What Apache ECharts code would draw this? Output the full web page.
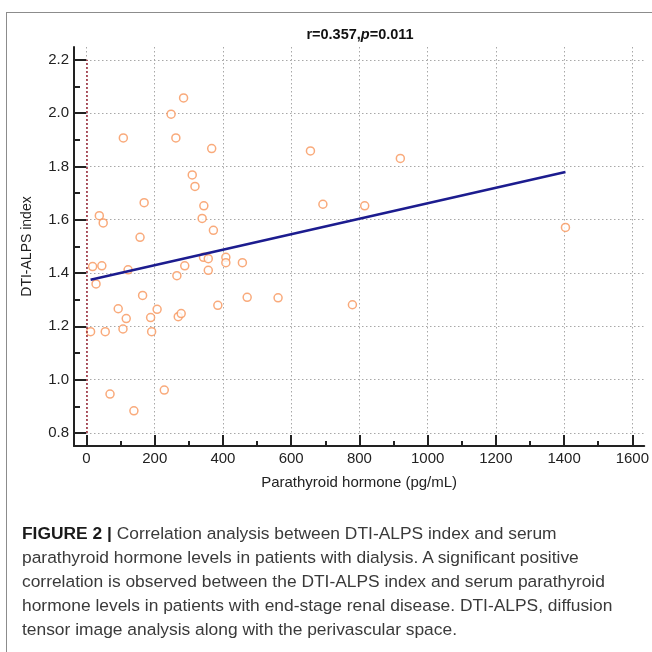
<!DOCTYPE html>
<html>
<head>
<meta charset="utf-8">
<script src="https://cdn.jsdelivr.net/npm/echarts@6/dist/echarts.min.js"></script>
<style>
  html, body { margin: 0; padding: 0; background: #fff; }
  #wrap { position: relative; width: 652px; height: 652px; overflow: hidden; }
  #frame { position: absolute; left: 6px; top: 12px; width: 700px; height: 700px;
           border-left: 1.5px solid #8c8c8c; border-top: 1.5px solid #8c8c8c; }
  #chart { position: absolute; left: 0; top: 0; width: 652px; height: 652px; }
  #caption { position: absolute; left: 22px; top: 521px; font-family: "Liberation Sans", Arial, sans-serif;
             font-size: 17.4px; line-height: 24px; color: #3a3a3a; white-space: nowrap; }
  #caption b { color: #1a1a1a; }
</style>
</head>
<body>
<div id="wrap">
  <div id="frame"></div>
  <div id="chart"></div>
  <div id="caption"><b>FIGURE 2 |</b> Correlation analysis between DTI-ALPS index and serum<br>parathyroid hormone levels in patients with dialysis. A significant positive<br>correlation is observed between the DTI-ALPS index and serum parathyroid<br>hormone levels in patients with end-stage renal disease. DTI-ALPS, diffusion<br>tensor image analysis along with the perivascular space.</div>
</div>
<script>
// Parathyroid hormone (pg/mL)
const pthValues = [284.6, 248, 108, 262, 367, 310, 318, 169, 344, 37.6, 49, 339, 372, 157,
  18, 45, 28, 122, 164.5, 93, 207, 116.5, 188, 107, 191, 12, 55, 269, 277.6, 265, 288,
  343, 357, 357, 385, 408.5, 408.5, 457, 471, 69, 228, 139, 656.5, 920, 693, 815.5,
  561.6, 779.5, 1404];
// DTI-ALPS index
const alpsValues = [2.057, 1.996, 1.907, 1.907, 1.867, 1.768, 1.725, 1.664, 1.652, 1.615, 1.588, 1.605, 1.560, 1.534,
  1.424, 1.427, 1.359, 1.412, 1.316, 1.266, 1.264, 1.229, 1.233, 1.190, 1.180, 1.180, 1.180, 1.236, 1.248, 1.390, 1.427,
  1.459, 1.454, 1.410, 1.279, 1.459, 1.439, 1.439, 1.309, 0.946, 0.961, 0.883, 1.858, 1.830, 1.658, 1.652,
  1.307, 1.281, 1.571];
// regression line end points
const regX = [12, 1404];
const regY = [1.375, 1.779];
// axis ticks
const xMajorTicks = [0, 200, 400, 600, 800, 1000, 1200, 1400, 1600];
const xMinorTicks = [100, 300, 500, 700, 900, 1100, 1300, 1500];
const yMajorTicks = [0.8, 1.0, 1.2, 1.4, 1.6, 1.8, 2.0, 2.2];
const yMinorTicks = [0.9, 1.1, 1.3, 1.5, 1.7, 1.9, 2.1];
const xRange = [-36.6, 1635];
const yRange = [0.751, 2.248];
const refLineX = 0;

const scatterData = pthValues.map((v, i) => [v, alpsValues[i]]);
const regData = regX.map((v, i) => [v, regY[i]]);

const axisCol = '#222';
const gridLine = { show: true, lineStyle: { color: '#a8a8a8', type: [1.5, 2.5], width: 1 } };
const fontFam = '"Liberation Sans", Arial, sans-serif';

const chart = echarts.init(document.getElementById('chart'), null, { renderer: 'canvas' });
chart.setOption({
  animation: false,
  title: {
    text: '{b|r=0.357,}{i|p}{b|=0.011}',
    left: 355, top: 22, textAlign: 'center',
    textStyle: {
      rich: {
        b: { fontFamily: fontFam, fontWeight: 'bold', fontSize: 14.5, color: '#111' },
        i: { fontFamily: fontFam, fontWeight: 'bold', fontStyle: 'italic', fontSize: 14.5, color: '#111' }
      }
    }
  },
  grid: { left: 74, top: 47, right: 7, bottom: 206, containLabel: false },
  xAxis: [
    {
      type: 'value', min: xRange[0], max: xRange[1], position: 'bottom',
      name: 'Parathyroid hormone (pg/mL)', nameLocation: 'middle', nameGap: 29,
      nameTextStyle: { fontFamily: fontFam, fontSize: 15, color: '#222' },
      axisLine: { show: true, onZero: false, lineStyle: { color: axisCol, width: 2 } },
      axisTick: { show: true, inside: true, length: 11, customValues: xMajorTicks, lineStyle: { color: axisCol, width: 2 } },
      axisLabel: { customValues: xMajorTicks, fontFamily: fontFam, fontSize: 15, color: '#222', margin: 5,
                   formatter: v => String(Math.round(v)) },
      splitLine: gridLine
    },
    {
      type: 'value', min: xRange[0], max: xRange[1], position: 'bottom',
      axisLine: { show: false, onZero: false },
      axisTick: { show: true, inside: true, length: 5, customValues: xMinorTicks, lineStyle: { color: axisCol, width: 2 } },
      axisLabel: { show: false },
      splitLine: { show: false }
    }
  ],
  yAxis: [
    {
      type: 'value', min: yRange[0], max: yRange[1], position: 'left',
      name: 'DTI-ALPS index', nameLocation: 'middle', nameGap: 40,
      nameTextStyle: { fontFamily: fontFam, fontSize: 14, color: '#222' },
      axisLine: { show: true, onZero: false, lineStyle: { color: axisCol, width: 2 } },
      axisTick: { show: true, inside: true, length: 12, customValues: yMajorTicks, lineStyle: { color: axisCol, width: 2 } },
      axisLabel: { customValues: yMajorTicks, fontFamily: fontFam, fontSize: 15, color: '#222', margin: 5,
                   formatter: v => v.toFixed(1) },
      splitLine: gridLine
    },
    {
      type: 'value', min: yRange[0], max: yRange[1], position: 'left',
      axisLine: { show: false, onZero: false },
      axisTick: { show: true, inside: true, length: 6, customValues: yMinorTicks, lineStyle: { color: axisCol, width: 2 } },
      axisLabel: { show: false },
      splitLine: { show: false }
    }
  ],
  series: [
    {
      type: 'scatter', xAxisIndex: 0, yAxisIndex: 0,
      data: scatterData, symbol: 'circle', symbolSize: 8,
      itemStyle: { color: '#fff', borderColor: '#F7955A', borderWidth: 1.5 },
      markLine: {
        silent: true, symbol: 'none', label: { show: false },
        lineStyle: { color: '#9a2a3a', type: [2, 2], width: 1.5, opacity: 1 },
        emphasis: { disabled: true },
        data: [[{ coord: [refLineX, yMajorTicks[0]] }, { coord: [refLineX, yMajorTicks[yMajorTicks.length - 1]] }]]
      },
      z: 3
    },
    {
      type: 'line', xAxisIndex: 0, yAxisIndex: 0,
      data: regData, symbol: 'none',
      lineStyle: { color: '#1c1c8f', width: 2.5 }, z: 4
    }
  ]
});
</script>
</body>
</html>
